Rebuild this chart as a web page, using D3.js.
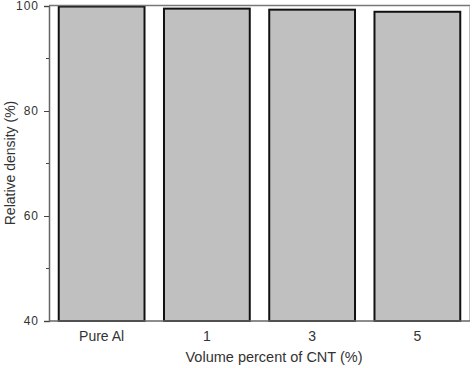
<!DOCTYPE html>
<html><head><meta charset="utf-8">
<script src="https://cdn.jsdelivr.net/npm/d3@7"></script>
<style>body{margin:0;background:#fff}svg{display:block}</style>
</head><body>
<script>
const categories = ["Pure Al", "1", "3", "5"];
const values = [99.9, 99.5, 99.3, 98.9];
const yTicks = [40, 60, 80, 100];
const yMinor = [50, 70, 90];

const W = 473, H = 368;
const m = {left: 49, right: 3, top: 6, bottom: 47};
const svg = d3.select("body").append("svg").attr("width", W).attr("height", H);
const x = d3.scaleBand().domain(categories).range([m.left, W - m.right]).paddingInner(0.185).paddingOuter(0.0925);
const y = d3.scaleLinear().domain([40, 100]).range([H - m.bottom, m.top]);

svg.append("g").selectAll("rect").data(values).join("rect")
  .attr("x", (d, i) => x(categories[i]))
  .attr("y", d => y(d))
  .attr("width", x.bandwidth())
  .attr("height", d => y(40) - y(d))
  .attr("fill", "#c0c0c0").attr("stroke", "#111").attr("stroke-width", 2);

// frame
svg.append("line").attr("x1", m.left).attr("x2", W - m.right).attr("y1", m.top - 0.5).attr("y2", m.top - 0.5).attr("stroke", "#777").attr("stroke-width", 1.5);
svg.append("line").attr("x1", W - m.right - 0.5).attr("x2", W - m.right - 0.5).attr("y1", m.top).attr("y2", H - m.bottom).attr("stroke", "#bbb").attr("stroke-width", 1);

const yAxis = svg.append("g").attr("transform", `translate(${m.left},0)`)
  .call(d3.axisLeft(y).tickValues(yTicks).tickSize(5).tickPadding(5).tickFormat(d3.format("d")));
yAxis.select(".domain").attr("stroke", "#666").attr("stroke-width", 1.5);
yAxis.selectAll(".tick line").attr("stroke", "#444");
yAxis.selectAll("text").attr("font-family", "Liberation Sans, Arial, sans-serif").attr("font-size", 12).attr("fill", "#333").attr("letter-spacing", 1);
yAxis.append("g").selectAll("line").data(yMinor).join("line")
  .attr("x1", -3).attr("x2", 0).attr("y1", d => y(d)).attr("y2", d => y(d)).attr("stroke", "#444");

const xAxis = svg.append("g").attr("transform", `translate(0,${H - m.bottom})`)
  .call(d3.axisBottom(x).tickSize(0).tickPadding(10).tickSizeOuter(0));
xAxis.select(".domain").attr("stroke", "#666").attr("stroke-width", 1.5).attr("d", `M${m.left},0H${W - m.right}`);
xAxis.selectAll("text").attr("font-family", "Liberation Sans, Arial, sans-serif").attr("font-size", 14).attr("fill", "#333");

svg.append("text").attr("x", 274).attr("y", 362).attr("text-anchor", "middle")
  .attr("font-family", "Liberation Sans, Arial, sans-serif").attr("font-size", 14.5).attr("fill", "#333")
  .text("Volume percent of CNT (%)");
svg.append("text").attr("transform", "translate(15,163) rotate(-90)").attr("text-anchor", "middle")
  .attr("font-family", "Liberation Sans, Arial, sans-serif").attr("font-size", 14).attr("fill", "#333")
  .text("Relative density (%)");
</script>
</body></html>
